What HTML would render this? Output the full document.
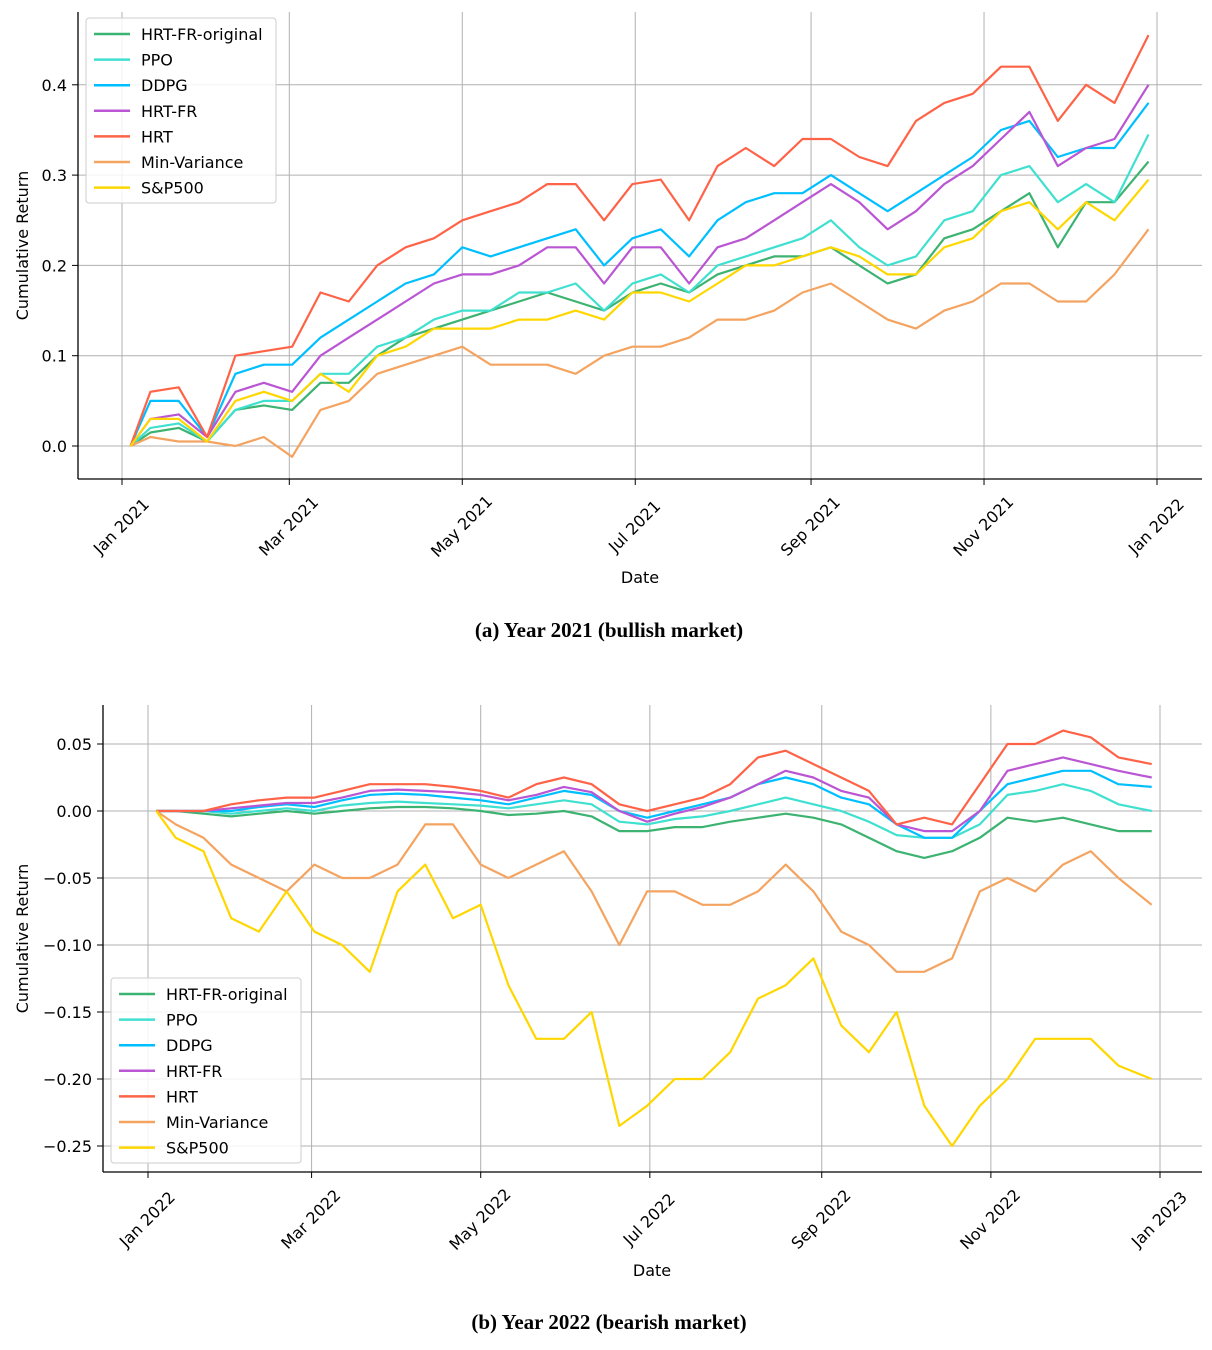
<!DOCTYPE html>
<html><head><meta charset="utf-8"><style>
body{margin:0;background:#fff;}
svg{display:block;font-family:"DejaVu Sans","Liberation Sans",sans-serif;}
.cap{font-family:"Liberation Serif",serif;font-weight:bold;font-size:21px;}
</style></head><body>
<svg id="svg" width="1212" height="1350" viewBox="0 0 1212 1350">
<text class="cap" x="609" y="637" text-anchor="middle">(a) Year 2021 (bullish market)</text>
<text class="cap" x="609" y="1329" text-anchor="middle">(b) Year 2022 (bearish market)</text>
</svg>
<script>
const days = [3,10,20,30,40,50,60,70,80,90,100,110,120,130,140,150,160,170,180,190,200,210,220,230,240,250,260,270,280,290,300,310,320,330,340,350,362];
const seriesNames = ["HRT-FR-original","PPO","DDPG","HRT-FR","HRT","Min-Variance","S&P500"];
const colors = ["#3cb371","#40e0d0","#00bfff","#ba55d3","#ff6347","#f4a460","#ffd700"];
const monthLabelsA = ["Jan 2021","Mar 2021","May 2021","Jul 2021","Sep 2021","Nov 2021","Jan 2022"];
const monthLabelsB = ["Jan 2022","Mar 2022","May 2022","Jul 2022","Sep 2022","Nov 2022","Jan 2023"];
const monthDays = [0,59,120,181,243,304,365];
const yTicksA = [0.0,0.1,0.2,0.3,0.4];
const yTickLabelsA = ["0.0","0.1","0.2","0.3","0.4"];
const yTicksB = [0.05,0,-0.05,-0.10,-0.15,-0.20,-0.25];
const yTickLabelsB = ["0.05","0.00","\u22120.05","\u22120.10","\u22120.15","\u22120.20","\u22120.25"];
// 2021
const a_hrtfro = [0,.015,.02,.005,.04,.045,.04,.07,.07,.10,.12,.13,.14,.15,.16,.17,.16,.15,.17,.18,.17,.19,.20,.21,.21,.22,.20,.18,.19,.23,.24,.26,.28,.22,.27,.27,.315];
const a_ppo = [0,.02,.025,.005,.04,.05,.05,.08,.08,.11,.12,.14,.15,.15,.17,.17,.18,.15,.18,.19,.17,.20,.21,.22,.23,.25,.22,.20,.21,.25,.26,.30,.31,.27,.29,.27,.345];
const a_ddpg = [0,.05,.05,.01,.08,.09,.09,.12,.14,.16,.18,.19,.22,.21,.22,.23,.24,.20,.23,.24,.21,.25,.27,.28,.28,.30,.28,.26,.28,.30,.32,.35,.36,.32,.33,.33,.38];
const a_hrtfr = [0,.03,.035,.01,.06,.07,.06,.10,.12,.14,.16,.18,.19,.19,.20,.22,.22,.18,.22,.22,.18,.22,.23,.25,.27,.29,.27,.24,.26,.29,.31,.34,.37,.31,.33,.34,.40];
const a_hrt = [0,.06,.065,.01,.10,.105,.11,.17,.16,.20,.22,.23,.25,.26,.27,.29,.29,.25,.29,.295,.25,.31,.33,.31,.34,.34,.32,.31,.36,.38,.39,.42,.42,.36,.40,.38,.455];
const a_minvar = [0,.01,.005,.005,0,.01,-.012,.04,.05,.08,.09,.10,.11,.09,.09,.09,.08,.10,.11,.11,.12,.14,.14,.15,.17,.18,.16,.14,.13,.15,.16,.18,.18,.16,.16,.19,.24];
const a_sp = [0,.03,.03,.005,.05,.06,.05,.08,.06,.10,.11,.13,.13,.13,.14,.14,.15,.14,.17,.17,.16,.18,.20,.20,.21,.22,.21,.19,.19,.22,.23,.26,.27,.24,.27,.25,.295];
// 2022
const b_hrtfro = [0,0,-.002,-.004,-.002,0,-.002,0,.002,.003,.003,.002,0,-.003,-.002,0,-.004,-.015,-.015,-.012,-.012,-.008,-.005,-.002,-.005,-.01,-.02,-.03,-.035,-.03,-.02,-.005,-.008,-.005,-.01,-.015,-.015];
const b_ppo = [0,0,0,-.002,0,.002,0,.004,.006,.007,.006,.005,.004,.002,.005,.008,.005,-.008,-.01,-.006,-.004,0,.005,.01,.005,0,-.008,-.018,-.02,-.02,-.01,.012,.015,.02,.015,.005,0];
const b_ddpg = [0,0,0,0,.003,.005,.003,.008,.012,.013,.012,.01,.008,.005,.01,.015,.012,0,-.005,0,.005,.01,.02,.025,.02,.01,.005,-.01,-.02,-.02,0,.02,.025,.03,.03,.02,.018];
const b_hrtfr = [0,0,0,.002,.004,.006,.006,.01,.015,.016,.015,.014,.012,.008,.012,.018,.014,0,-.008,-.002,.003,.01,.02,.03,.025,.015,.01,-.01,-.015,-.015,0,.03,.035,.04,.035,.03,.025];
const b_hrt = [0,0,0,.005,.008,.01,.01,.015,.02,.02,.02,.018,.015,.01,.02,.025,.02,.005,0,.005,.01,.02,.04,.045,.035,.025,.015,-.01,-.005,-.01,.02,.05,.05,.06,.055,.04,.035];
const b_minvar = [0,-.01,-.02,-.04,-.05,-.06,-.04,-.05,-.05,-.04,-.01,-.01,-.04,-.05,-.04,-.03,-.06,-.1,-.06,-.06,-.07,-.07,-.06,-.04,-.06,-.09,-.1,-.12,-.12,-.11,-.06,-.05,-.06,-.04,-.03,-.05,-.07];
const b_sp = [0,-.02,-.03,-.08,-.09,-.06,-.09,-.1,-.12,-.06,-.04,-.08,-.07,-.13,-.17,-.17,-.15,-.235,-.22,-.2,-.2,-.18,-.14,-.13,-.11,-.16,-.18,-.15,-.22,-.25,-.22,-.2,-.17,-.17,-.17,-.19,-.2];

const NS="http://www.w3.org/2000/svg";
const svg=document.getElementById('svg');
function mk(tag,attrs,parent,text){const e=document.createElementNS(NS,tag);for(const k in attrs)e.setAttribute(k,attrs[k]);if(text!==undefined)e.textContent=text;(parent||svg).appendChild(e);return e;}

function chart(cfg){
  const g=mk('g',{});
  
  
  const xs=d=>cfg.x0+(d)*(cfg.x1-cfg.x0)/365;
  const ys=v=>cfg.yZero+(-v)*cfg.yPer;
  monthDays.forEach((d,i)=>{
    const x=xs(d);
    const gl=mk('line',{x1:x,x2:x,y1:cfg.top,y2:cfg.bottom,stroke:'#b0b0b0','stroke-width':1},g);
    
    
    mk('line',{x1:x,x2:x,y1:cfg.bottom,y2:cfg.bottom+6,stroke:'#000','stroke-width':1},g);
    const t=mk('text',{x:x,y:cfg.bottom+48,'text-anchor':'middle','dominant-baseline':'middle','font-size':16,transform:`rotate(-45 ${x} ${cfg.bottom+48})`},g,cfg.xLabels[i]);
    
    
  });
  cfg.yTicks.forEach((v,i)=>{
    const y=ys(v);
    const gl=mk('line',{x1:cfg.left,x2:1202,y1:y,y2:y,stroke:'#b0b0b0','stroke-width':1},g);
    
    
    mk('line',{x1:cfg.left-6,x2:cfg.left,y1:y,y2:y,stroke:'#000','stroke-width':1},g);
    const t=mk('text',{x:cfg.left-11,y:y+6,'text-anchor':'end','font-size':16},g,cfg.yLabels[i]);
    
    
  });
  cfg.series.forEach((arr,si)=>{
    const n=Math.min(arr.length,days.length);
    let d='';
    for(let i=0;i<n;i++){d+=(i?'L':'M')+xs(days[i]).toFixed(1)+' '+ys(arr[i]).toFixed(1);}
    const p=mk('path',{d:d,fill:'none',stroke:colors[si],'stroke-width':2.2,'stroke-linejoin':'round'},g);
    
    
  });
  mk('line',{x1:cfg.left,x2:cfg.left,y1:cfg.top,y2:cfg.bottom,stroke:'#000','stroke-width':1.3},g);
  mk('line',{x1:cfg.left,x2:1202,y1:cfg.bottom,y2:cfg.bottom,stroke:'#000','stroke-width':1.3},g);
  const xt=mk('text',{x:cfg.xTitleX,y:cfg.xTitleY,'text-anchor':'middle','font-size':16},g,'Date');
  
  
  const yc=(cfg.top+cfg.bottom)/2;
  const yt=mk('text',{x:28,y:yc,'text-anchor':'middle','font-size':16,transform:`rotate(-90 28 ${yc})`},g,'Cumulative Return');
  
  
  const lg=mk('g',{},g);
  
  
  mk('rect',{x:cfg.lx,y:cfg.ly,width:190,height:185,rx:3,fill:'#fff','fill-opacity':0.85,stroke:'#ccc'},lg);
  seriesNames.forEach((nm,i)=>{
    const y=cfg.ly+16+i*25.6;
    const e=mk('g',{},lg);
    
    
    mk('line',{x1:cfg.lx+8,x2:cfg.lx+44,y1:y,y2:y,stroke:colors[i],'stroke-width':2.5},e);
    mk('text',{x:cfg.lx+55,y:y+6,'font-size':16},e,nm);
  });
}
chart({name:'chart-2021',x0:122,x1:1157,top:12,bottom:479,left:78,yZero:446,yPer:903,
  xLabels:monthLabelsA,yTicks:yTicksA,yLabels:yTickLabelsA,xTitleX:640,xTitleY:583,lx:86,ly:18,
  series:[a_hrtfro,a_ppo,a_ddpg,a_hrtfr,a_hrt,a_minvar,a_sp]});
chart({name:'chart-2022',x0:148,x1:1160,top:705,bottom:1172,left:103,yZero:811,yPer:1340,
  xLabels:monthLabelsB,yTicks:yTicksB,yLabels:yTickLabelsB,xTitleX:652,xTitleY:1276,lx:111,ly:978,
  series:[b_hrtfro,b_ppo,b_ddpg,b_hrtfr,b_hrt,b_minvar,b_sp]});
</script>
</body></html>
